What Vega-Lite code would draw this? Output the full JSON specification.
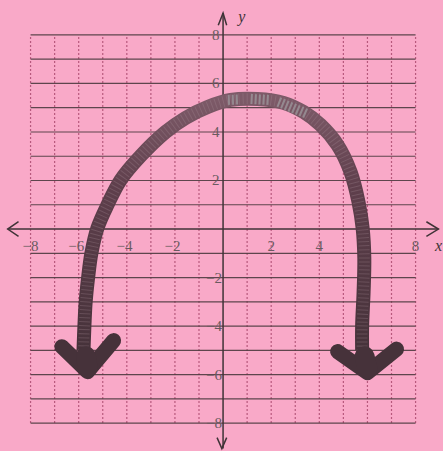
{"$schema":"https://vega.github.io/schema/vega-lite/v6.json","width":443,"height":451,"padding":0,"autosize":{"type":"none"},"background":"#f9a9c8","config":{"view":{"stroke":null}},
"datasets":{
"h":[{"y":-8,"x":-8,"x2":8},{"y":-7,"x":-8,"x2":8},{"y":-6,"x":-8,"x2":8},{"y":-5,"x":-8,"x2":8},{"y":-4,"x":-8,"x2":8},{"y":-3,"x":-8,"x2":8},{"y":-2,"x":-8,"x2":8},{"y":-1,"x":-8,"x2":8},{"y":1,"x":-8,"x2":8},{"y":2,"x":-8,"x2":8},{"y":3,"x":-8,"x2":8},{"y":4,"x":-8,"x2":8},{"y":5,"x":-8,"x2":8},{"y":6,"x":-8,"x2":8},{"y":7,"x":-8,"x2":8},{"y":8,"x":-8,"x2":8}],
"v":[{"x":-8,"y":-8,"y2":8},{"x":-7,"y":-8,"y2":8},{"x":-6,"y":-8,"y2":8},{"x":-5,"y":-8,"y2":8},{"x":-4,"y":-8,"y2":8},{"x":-3,"y":-8,"y2":8},{"x":-2,"y":-8,"y2":8},{"x":-1,"y":-8,"y2":8},{"x":1,"y":-8,"y2":8},{"x":2,"y":-8,"y2":8},{"x":3,"y":-8,"y2":8},{"x":4,"y":-8,"y2":8},{"x":5,"y":-8,"y2":8},{"x":6,"y":-8,"y2":8},{"x":7,"y":-8,"y2":8},{"x":8,"y":-8,"y2":8}],
"axes":[
{"g":"xa","o":1,"x":-8.95,"y":0},{"g":"xa","o":2,"x":8.95,"y":0},
{"g":"ya","o":1,"x":0,"y":8.9},{"g":"ya","o":2,"x":0,"y":-9.05},
{"g":"xr","o":1,"x":8.45,"y":0.3},{"g":"xr","o":2,"x":8.95,"y":0},{"g":"xr","o":3,"x":8.45,"y":-0.3},
{"g":"xl","o":1,"x":-8.5,"y":0.3},{"g":"xl","o":2,"x":-8.95,"y":0},{"g":"xl","o":3,"x":-8.5,"y":-0.3},
{"g":"yt","o":1,"x":-0.2,"y":8.4},{"g":"yt","o":2,"x":0,"y":8.9},{"g":"yt","o":3,"x":0.15,"y":8.4},
{"g":"yb","o":1,"x":-0.25,"y":-8.6},{"g":"yb","o":2,"x":-0.05,"y":-9.05},{"g":"yb","o":3,"x":0.15,"y":-8.6}],
"curve":[
{"o":1,"x":-5.8,"y":-5.0},{"o":2,"x":-5.76,"y":-3.96},{"o":3,"x":-5.71,"y":-3.01},{"o":4,"x":-5.61,"y":-2.02},{"o":5,"x":-5.47,"y":-0.99},{"o":6,"x":-5.22,"y":0.04},{"o":7,"x":-4.8,"y":1},{"o":8,"x":-4.26,"y":2.02},{"o":9,"x":-3.43,"y":3.01},{"o":10,"x":-2.39,"y":4},{"o":11,"x":-1.56,"y":4.58},{"o":12,"x":-0.64,"y":5.03},{"o":13,"x":0.31,"y":5.32},{"o":14,"x":1.43,"y":5.36},{"o":15,"x":2.51,"y":5.2},{"o":16,"x":3.35,"y":4.82},{"o":17,"x":4.05,"y":4.29},{"o":18,"x":4.76,"y":3.46},{"o":19,"x":5.3,"y":2.35},{"o":20,"x":5.63,"y":1.11},{"o":21,"x":5.8,"y":0.04},{"o":22,"x":5.87,"y":-1.2},{"o":23,"x":5.84,"y":-2.6},{"o":24,"x":5.78,"y":-3.96},{"o":25,"x":5.78,"y":-5.0}],
"specks":[
{"g":"a","o":1,"x":0.2,"y":5.32},{"g":"a","o":2,"x":0.65,"y":5.34},
{"g":"b","o":1,"x":1.15,"y":5.36},{"g":"b","o":2,"x":1.95,"y":5.32},
{"g":"c","o":1,"x":2.3,"y":5.24},{"g":"c","o":2,"x":3.5,"y":4.74}],
"heads":[
{"g":"l","o":1,"x":-6.7,"y":-4.85},{"g":"l","o":2,"x":-5.63,"y":-5.88},{"g":"l","o":3,"x":-4.55,"y":-4.6},
{"g":"r","o":1,"x":4.76,"y":-5.05},{"g":"r","o":2,"x":6.0,"y":-5.92},{"g":"r","o":3,"x":7.21,"y":-4.95}],
"tips":[
{"g":"l","o":1,"x":-5.7,"y":-5.25},{"g":"l","o":2,"x":-5.63,"y":-5.7},
{"g":"r","o":1,"x":5.88,"y":-5.25},{"g":"r","o":2,"x":6.0,"y":-5.75}],
"labels":[
{"t":"−8","x":-8,"y":-0.68},{"t":"−6","x":-6.1,"y":-0.68},{"t":"−4","x":-4.1,"y":-0.68},{"t":"−2","x":-2.1,"y":-0.68},{"t":"2","x":2,"y":-0.68},{"t":"4","x":4,"y":-0.68},{"t":"8","x":8,"y":-0.68},
{"t":"8","x":-0.3,"y":8},{"t":"6","x":-0.3,"y":6},{"t":"4","x":-0.3,"y":4},{"t":"2","x":-0.3,"y":2},{"t":"−2","x":-0.38,"y":-2},{"t":"−4","x":-0.38,"y":-4},{"t":"−6","x":-0.38,"y":-6},{"t":"−8","x":-0.38,"y":-8}],
"names":[{"t":"x","x":8.95,"y":-0.68},{"t":"y","x":0.78,"y":8.75}]
},
"encoding":{
"x":{"field":"x","type":"quantitative","scale":{"domain":[-9.27,9.14],"nice":false,"zero":false},"axis":null},
"y":{"field":"y","type":"quantitative","scale":{"domain":[-9.15,9.44],"nice":false,"zero":false},"axis":null}},
"layer":[
{"data":{"name":"v"},"mark":{"type":"rule","color":"#a8456a","strokeWidth":1.2,"strokeDash":[2,2],"opacity":0.8},"encoding":{"y2":{"field":"y2"}}},
{"data":{"name":"h"},"mark":{"type":"rule","color":"#4d3a3f","strokeWidth":1.2,"opacity":0.9},"encoding":{"x2":{"field":"x2"}}},
{"data":{"name":"axes"},"mark":{"type":"line","color":"#3f3337","strokeWidth":1.5},"encoding":{"detail":{"field":"g"},"order":{"field":"o","type":"quantitative"}}},
{"data":{"name":"labels"},"mark":{"type":"text","font":"Liberation Serif","fontSize":15,"color":"#6a5a60"},"encoding":{"text":{"field":"t"}}},
{"data":{"name":"names"},"mark":{"type":"text","font":"Liberation Serif","fontSize":16,"fontStyle":"italic","color":"#3f3337"},"encoding":{"text":{"field":"t"}}},
{"data":{"name":"curve"},"mark":{"type":"line","interpolate":"catmull-rom","strokeWidth":14,"strokeCap":"butt","strokeJoin":"round","color":{"gradient":"linear","x1":0,"y1":0,"x2":0,"y2":1,"stops":[{"offset":0,"color":"#7d5a68"},{"offset":0.35,"color":"#5f3f4c"},{"offset":1,"color":"#46323a"}]}},"encoding":{"order":{"field":"o","type":"quantitative"}}},
{"data":{"name":"curve"},"mark":{"type":"line","interpolate":"catmull-rom","strokeWidth":11,"strokeDash":[1,3],"color":"#a58a95","opacity":0.3},"encoding":{"order":{"field":"o","type":"quantitative"}}},
{"data":{"name":"specks"},"mark":{"type":"line","strokeWidth":10,"strokeDash":[2,2],"color":"#9a9498","opacity":0.8},"encoding":{"detail":{"field":"g"},"order":{"field":"o","type":"quantitative"}}},
{"data":{"name":"heads"},"mark":{"type":"line","color":"#46323a","strokeWidth":15,"strokeCap":"round","strokeJoin":"round"},"encoding":{"detail":{"field":"g"},"order":{"field":"o","type":"quantitative"}}},
{"data":{"name":"tips"},"mark":{"type":"line","color":"#46323a","strokeWidth":20,"strokeCap":"round"},"encoding":{"detail":{"field":"g"},"order":{"field":"o","type":"quantitative"}}}
]}
